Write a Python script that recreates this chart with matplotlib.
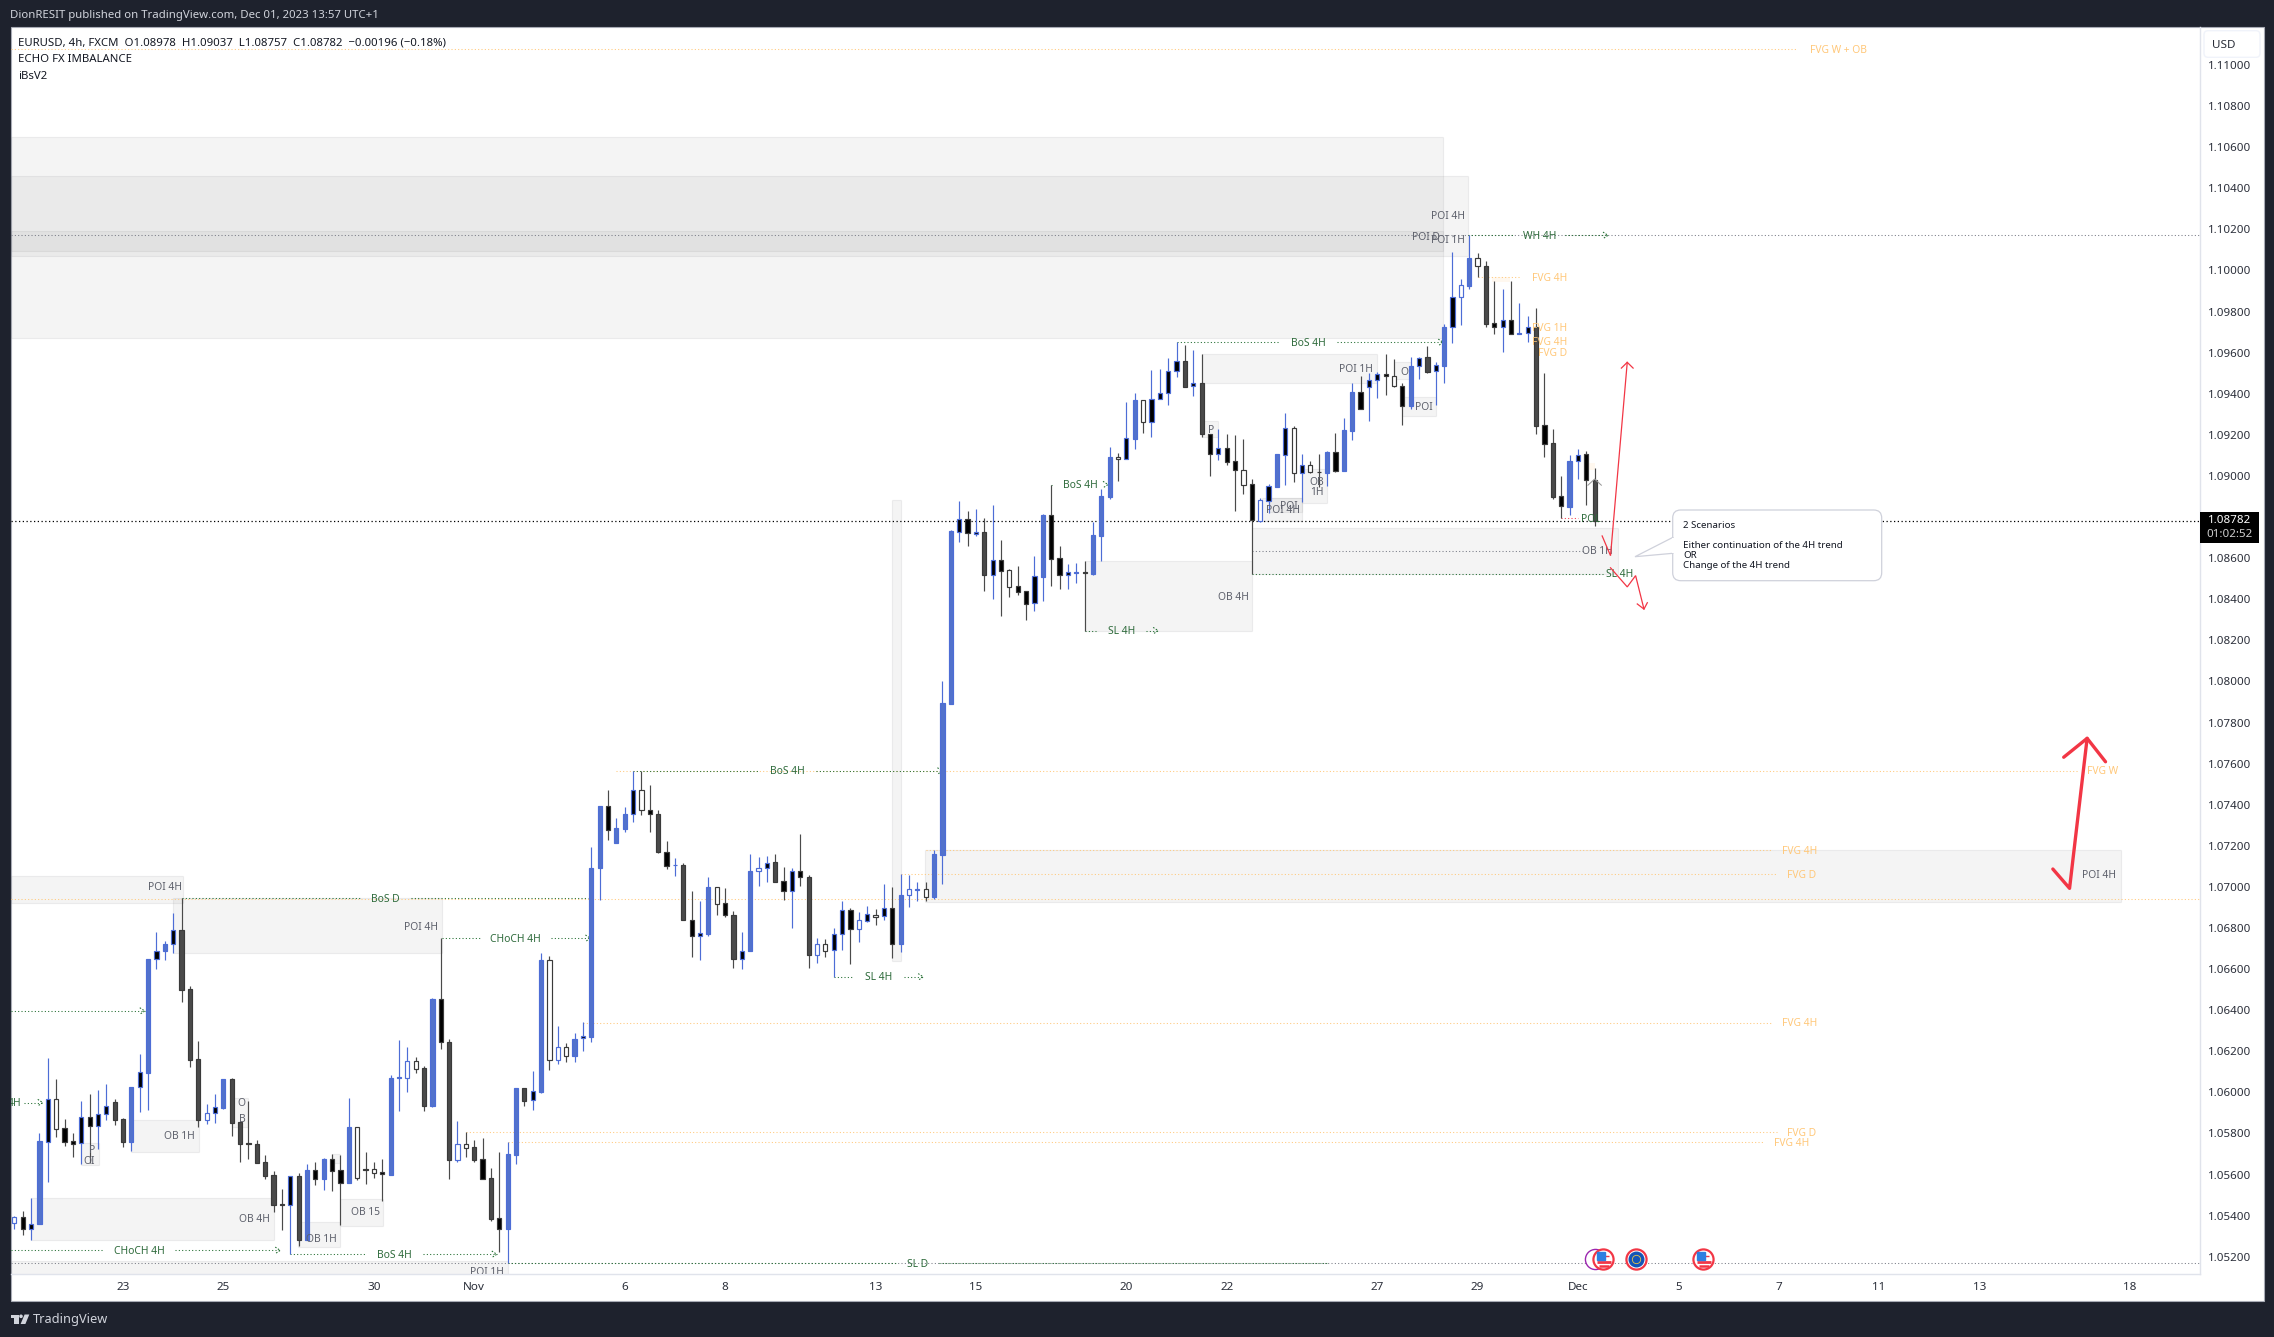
import matplotlib
matplotlib.use('Agg')
import matplotlib.pyplot as plt
from matplotlib.patches import Rectangle, FancyBboxPatch, Polygon, Circle

# ---- candles (one per 4h, weekends skipped) ----
opens = [1.05366,1.05392,1.05337,1.05358,1.05760,1.05966,1.05825,1.05762,1.05752,1.05879,
         1.05838,1.05893,1.05952,1.05871,1.05760,1.06025,1.06096,1.06647,1.06686,1.06720,
         1.06790,1.06503,1.06163,1.05867,1.05898,1.05926,1.06065,1.05854,1.05752,1.05749,
         1.05660,1.05598,1.05455,1.05454,1.05593,1.05282,1.05622,1.05580,1.05674,1.05622,
         1.05561,1.05830,1.05626,1.05626,1.05611,1.05600,1.06072,1.06072,1.06151,1.06119,
         1.05934,1.06454,1.06244,1.05673,1.05747,1.05734,1.05674,1.05583,1.05387,1.05337,
         1.05697,1.06019,1.05962,1.06003,1.06642,1.06157,1.06220,1.06179,1.06264,1.06271,
         1.07094,1.07393,1.07215,1.07283,1.07354,1.07470,1.07372,1.07354,1.07172,1.07105,
         1.07105,1.06837,1.06759,1.06770,1.06998,1.06920,1.06861,1.06651,1.06690,1.07076,
         1.07090,1.07120,1.07027,1.06979,1.07076,1.07046,1.06670,1.06720,1.06692,1.06772,
         1.06887,1.06794,1.06833,1.06864,1.06857,1.06896,1.06724,1.06959,1.06987,1.06989,
         1.06953,1.07157,1.07892,1.08729,1.08789,1.08719,1.08727,1.08520,1.08589,1.08542,
         1.08463,1.08438,1.08380,1.08510,1.08810,1.08599,1.08520,1.08529,1.08531,1.08524,
         1.08709,1.08899,1.09091,1.09081,1.09181,1.09368,1.09264,1.09373,1.09402,1.09509,
         1.09559,1.09436,1.09452,1.09206,1.09109,1.09135,1.09071,1.09027,1.08959,1.08781,
         1.08880,1.08948,1.09104,1.09232,1.09016,1.09055,1.09021,1.09016,1.09115,1.09026,
         1.09220,1.09407,1.09431,1.09469,1.09495,1.09485,1.09436,1.09340,1.09535,1.09577,
         1.09509,1.09537,1.09723,1.09869,1.09926,1.10059,1.10022,1.09743,1.09727,1.09757,
         1.09693,1.09694,1.09723,1.09247,1.09161,1.08901,1.08851,1.09071,1.09105,1.08978]
highs = [1.05399,1.05423,1.05485,1.05801,1.06166,1.06064,1.05871,1.05801,1.05958,1.05991,
         1.06012,1.06041,1.05966,1.05874,1.06026,1.06187,1.06647,1.06780,1.06737,1.06873,
         1.06944,1.06518,1.06250,1.05944,1.05992,1.06065,1.06070,1.05854,1.05958,1.05768,
         1.05695,1.05618,1.05530,1.05592,1.05606,1.05650,1.05661,1.05682,1.05700,1.05694,
         1.05971,1.05830,1.05710,1.05663,1.05674,1.06083,1.06255,1.06221,1.06172,1.06128,
         1.06461,1.06750,1.06260,1.05861,1.05806,1.05768,1.05777,1.05630,1.05710,1.05757,
         1.06019,1.06019,1.06103,1.06677,1.06666,1.06325,1.06238,1.06288,1.06342,1.07194,
         1.07394,1.07472,1.07335,1.07387,1.07563,1.07563,1.07496,1.07374,1.07224,1.07141,
         1.07116,1.06979,1.06931,1.07048,1.06998,1.06994,1.06881,1.06781,1.07161,1.07146,
         1.07150,1.07161,1.07096,1.07090,1.07257,1.07057,1.06751,1.06746,1.06800,1.06931,
         1.06898,1.06877,1.06907,1.06892,1.07014,1.07000,1.07063,1.07057,1.07026,1.07024,
         1.07178,1.08002,1.08737,1.08878,1.08829,1.08839,1.08794,1.08858,1.08688,1.08547,
         1.08562,1.08438,1.08610,1.08813,1.08956,1.08659,1.08571,1.08575,1.08586,1.08777,
         1.08935,1.09139,1.09110,1.09360,1.09404,1.09370,1.09516,1.09521,1.09574,1.09652,
         1.09637,1.09613,1.09594,1.09206,1.09229,1.09204,1.09199,1.09180,1.08985,1.08893,
         1.08959,1.09105,1.09306,1.09243,1.09107,1.09071,1.09107,1.09120,1.09209,1.09281,
         1.09452,1.09486,1.09503,1.09506,1.09594,1.09569,1.09452,1.09577,1.09577,1.09632,
         1.09555,1.09740,1.10088,1.09957,1.10173,1.10084,1.10046,1.09949,1.09912,1.09949,
         1.09842,1.09778,1.09817,1.09503,1.09229,1.09000,1.09102,1.09131,1.09120,1.09037]
lows = [1.05334,1.05306,1.05282,1.05358,1.05566,1.05785,1.05741,1.05687,1.05652,1.05655,
        1.05726,1.05866,1.05841,1.05736,1.05715,1.05906,1.05914,1.06599,1.06644,1.06680,
        1.06442,1.06125,1.05833,1.05846,1.05853,1.05921,1.05789,1.05663,1.05674,1.05656,
        1.05580,1.05420,1.05330,1.05212,1.05253,1.05282,1.05549,1.05525,1.05522,1.05355,
        1.05558,1.05574,1.05554,1.05585,1.05473,1.05600,1.05911,1.06002,1.06096,1.05911,
        1.05931,1.06211,1.05580,1.05663,1.05687,1.05663,1.05577,1.05376,1.05222,1.05168,
        1.05649,1.05936,1.05914,1.05995,1.06107,1.06140,1.06149,1.06149,1.06201,1.06247,
        1.06937,1.07229,1.07215,1.07268,1.07318,1.07352,1.07265,1.07166,1.07085,1.07055,
        1.06837,1.06659,1.06644,1.06763,1.06863,1.06855,1.06607,1.06598,1.06690,1.07002,
        1.07026,1.07024,1.06937,1.06801,1.07002,1.06607,1.06631,1.06659,1.06562,1.06692,
        1.06627,1.06733,1.06829,1.06816,1.06840,1.06655,1.06685,1.06903,1.06933,1.06933,
        1.06942,1.07014,1.07892,1.08679,1.08661,1.08708,1.08442,1.08403,1.08318,1.08412,
        1.08422,1.08299,1.08344,1.08393,1.08464,1.08451,1.08451,1.08481,1.08247,1.08520,
        1.08586,1.08886,1.08977,1.09081,1.09133,1.09211,1.09191,1.09373,1.09347,1.09483,
        1.09431,1.09391,1.09191,1.09002,1.09079,1.09055,1.08830,1.08914,1.08521,1.08778,
        1.08818,1.08948,1.08958,1.08972,1.08873,1.09016,1.08948,1.08951,1.09021,1.09024,
        1.09175,1.09326,1.09269,1.09379,1.09394,1.09435,1.09248,1.09328,1.09474,1.09503,
        1.09345,1.09454,1.09646,1.09736,1.09908,1.09967,1.09723,1.09693,1.09605,1.09689,
        1.09689,1.09654,1.09206,1.09094,1.08886,1.08794,1.08812,1.08987,1.08859,1.08757]
closes = [1.05392,1.05337,1.05358,1.05764,1.05966,1.05823,1.05760,1.05751,1.05879,1.05838,
          1.05893,1.05932,1.05866,1.05760,1.06026,1.06098,1.06647,1.06686,1.06720,1.06789,
          1.06500,1.06158,1.05867,1.05898,1.05927,1.06065,1.05853,1.05751,1.05751,1.05656,
          1.05595,1.05454,1.05454,1.05592,1.05282,1.05622,1.05580,1.05674,1.05619,1.05561,
          1.05832,1.05585,1.05624,1.05609,1.05601,1.06068,1.06073,1.06151,1.06116,1.05934,
          1.06454,1.06244,1.05671,1.05747,1.05731,1.05671,1.05580,1.05384,1.05337,1.05700,
          1.06019,1.05960,1.06005,1.06642,1.06157,1.06220,1.06179,1.06262,1.06273,1.07094,
          1.07394,1.07276,1.07285,1.07354,1.07470,1.07372,1.07354,1.07172,1.07103,1.07106,
          1.06837,1.06759,1.06774,1.06998,1.06918,1.06861,1.06651,1.06690,1.07076,1.07090,
          1.07118,1.07024,1.06979,1.07076,1.07046,1.06668,1.06720,1.06690,1.06772,1.06887,
          1.06794,1.06840,1.06866,1.06855,1.06896,1.06724,1.06959,1.06989,1.06989,1.06953,
          1.07161,1.07893,1.08732,1.08789,1.08721,1.08726,1.08518,1.08589,1.08539,1.08461,
          1.08437,1.08378,1.08511,1.08810,1.08597,1.08520,1.08531,1.08531,1.08529,1.08713,
          1.08901,1.09091,1.09081,1.09183,1.09370,1.09264,1.09373,1.09402,1.09509,1.09558,
          1.09435,1.09451,1.09206,1.09109,1.09135,1.09070,1.09027,1.08958,1.08784,1.08882,
          1.08950,1.09105,1.09232,1.09016,1.09055,1.09021,1.09019,1.09115,1.09026,1.09222,
          1.09407,1.09328,1.09469,1.09495,1.09486,1.09436,1.09342,1.09535,1.09576,1.09507,
          1.09538,1.09725,1.09869,1.09928,1.10059,1.10020,1.09741,1.09727,1.09757,1.09693,
          1.09694,1.09723,1.09245,1.09157,1.08899,1.08852,1.09071,1.09104,1.08979,1.08782]
# s = solid body, k = black body, w = hollow body
body_kinds = ('wkkskwkkkk' 'kksssksksk' 'ssswksssks' 'sskksskskk' 'swkwkskwws'
              'skswwsksks' 'sskswwwsks' 'sksskwkskk' 'skkswksksw' 'kskkkswwkk'
              'kwkwkkswkw' 'ssskkkskkw' 'kkkskkkkks' 'sswkswkkkk' 'skskkkkwkw'
              'kskwkwksks' 'skkkkwksks' 'kskwswskkk' 'kkskskskks')

# ---- axes ----
time_ticks = [13, 25, 43, 55, 73, 85, 103, 115, 133, 145, 163, 175, 187, 199, 211, 223, 235, 253]
time_labels = ['23', '25', '30', 'Nov', '6', '8', '13', '15', '20', '22', '27', '29', 'Dec',
               '5', '7', '11', '13', '18']
price_ticks = [1.052, 1.054, 1.056, 1.058, 1.060, 1.062, 1.064, 1.066, 1.068, 1.070, 1.072, 1.074,
               1.076, 1.078, 1.080, 1.082, 1.084, 1.086, 1.090, 1.092, 1.094, 1.096, 1.098, 1.100,
               1.102, 1.104, 1.106, 1.108, 1.110]
last_price = 1.08782

# ---- drawings, in bar number and price ----
# start, end, top, bottom
zones = [(-0.46, 170.9, 1.10648, 1.09670), (-0.46, 173.9, 1.10460, 1.10072), (-0.46, 170.9, 1.10192, 1.10096),
         (-0.46, 20.2, 1.07053, 1.06922), (19.0, 51.1, 1.06946, 1.06678), (14.0, 22.1, 1.05865, 1.05711),
         (8.0, 10.1, 1.05753, 1.05646), (26.0, 28.0, 1.05973, 1.05831), (2.0, 31.0, 1.05486, 1.05281),
         (33.9, 39.0, 1.05369, 1.05247), (39.0, 44.1, 1.05481, 1.05350), (38.0, 39.0, 1.05700, 1.05656),
         (-0.46, 59.0, 1.05179, 1.05110), (108.9, 251.9, 1.07180, 1.06928), (105.0, 106.0, 1.08883, 1.06639),
         (128.0, 148.0, 1.08586, 1.08247), (148.0, 191.8, 1.08747, 1.08521), (149.2, 154.0, 1.08893, 1.08782),
         (150.0, 154.0, 1.08893, 1.08825), (154.0, 157.0, 1.09034, 1.08870), (142.0, 163.0, 1.09594, 1.09451),
         (142.0, 144.0, 1.09267, 1.09188), (165.0, 167.0, 1.09555, 1.09470), (166.0, 170.0, 1.09384, 1.09293)]
# label, bar, price, right aligned
zone_labels = [('POI 4H', 20.0, 1.06995, True), ('POI 4H', 50.7, 1.06800, True), ('OB 1H', 21.6, 1.05785, True),
               ('P', 9.3, 1.05715, False), ('OI', 8.9, 1.05665, False), ('O', 27.2, 1.05945, False),
               ('B', 27.3, 1.05870, False), ('OB 4H', 30.6, 1.05380, True), ('OB 1H', 38.6, 1.05285, True),
               ('OB 15', 43.7, 1.05415, True), ('POI 1H', 58.6, 1.05125, True), ('POI 4H', 251.3, 1.07056, True),
               ('OB 4H', 147.6, 1.08410, True), ('POI 4H', 153.8, 1.08833, True), ('POI', 152.4, 1.08850, False),
               ('OB', 155.8, 1.08970, False), ('1H', 155.8, 1.08920, False), ('POI 1H', 162.5, 1.09520, True),
               ('P', 143.1, 1.09220, False), ('O', 166.2, 1.09505, False), ('POI', 168.6, 1.09335, False),
               ('OB 1H', 191.2, 1.08630, True), ('POI 4H', 173.5, 1.10265, True), ('POI D', 170.5, 1.10160, True),
               ('POI 1H', 173.5, 1.10146, True)]
# start, end, price, label, label bar, arrow
green_lines = [(20.1, 68.6, 1.06945, 'BoS D', 44.4, False), (51.1, 68.9, 1.06750, 'CHoCH 4H', 59.9, True),
               (-0.46, 15.6, 1.06396, '', 0, True), (1.2, 3.4, 1.05950, '', 0, True),
               (-0.46, 31.8, 1.05231, 'CHoCH 4H', 15.0, True), (33.0, 57.7, 1.05212, 'BoS 4H', 45.5, True),
               (59.0, 157.0, 1.05168, 'SL D', 108.0, False), (74.0, 111.0, 1.07564, 'BoS 4H', 92.4, True),
               (98.0, 108.7, 1.06562, 'SL 4H', 103.4, True), (124.0, 130.8, 1.08958, 'BoS 4H', 127.5, True),
               (128.0, 136.8, 1.08247, 'SL 4H', 132.4, True), (139.0, 170.9, 1.09650, 'BoS 4H', 154.8, True),
               (173.9, 190.6, 1.10171, 'WH 4H', 182.4, True), (148.0, 190.0, 1.08521, '', 0, False)]
green_notes = [('4H', 0.08, 1.05950), ('SL 4H', 192.0, 1.08525), ('POL', 188.6, 1.08794)]
# start, end, price, label, label bar
orange_lines = [(-0.46, 215.0, 1.11076, 'FVG W + OB', 218.2), (72.0, 248.3, 1.07564, 'FVG W', 249.8),
                (109.0, 211.2, 1.07178, 'FVG 4H', 213.5), (106.0, 211.2, 1.07061, 'FVG D', 213.8),
                (-0.46, 261.4, 1.06943, '', 0), (68.0, 211.3, 1.06340, 'FVG 4H', 213.5),
                (54.0, 211.2, 1.05805, 'FVG D', 213.8), (59.0, 210.6, 1.05756, 'FVG 4H', 212.5),
                (175.0, 181.0, 1.09967, 'FVG 4H', 183.6)]
orange_notes = [('FVG 1H', 183.6, 1.09720), ('FVG 4H', 183.6, 1.09653), ('FVG D', 184.0, 1.09600)]
orange_tints = [(176.7, 178.9, 1.09968, 1.09944), (187.9, 189.0, 1.09063, 1.09029)]
red_paths = [([189.9, 190.9, 192.9], [1.08708, 1.08612, 1.09553]),
             ([192.2, 192.9, 193.6], [1.09525, 1.09553, 1.09525]),
             ([190.9, 192.9, 193.9, 194.9], [1.08553, 1.08460, 1.08515, 1.08352]),
             ([194.1, 194.9, 195.3], [1.08377, 1.08352, 1.08383])]
big_arrow = ([243.8, 245.8, 247.9], [1.07087, 1.06993, 1.07723])
big_arrow_head = ([245.1, 247.9, 250.1], [1.07631, 1.07723, 1.07609])
event_bars = [190, 194, 202]
event_kinds = ['us', 'eu', 'us']

W, H = 2274, 1337
DARK = '#1e222d'
BLUE = '#5272cc'
WICK_BLUE = '#4d6dd6'
GREY = '#4a4a4a'
GREEN = '#2f6b3c'
LINE_GREEN = '#1f6b2e'
ORANGE = '#ffc87a'
LABEL = '#5d606b'
RED = '#f23645'
plt.rcParams['font.family'] = ['Noto Sans', 'DejaVu Sans']


def fx(x):
    return x / W


def fy(y):
    return 1 - y / H


fig = plt.figure(figsize=(W / 100, H / 100), dpi=100, facecolor=DARK)
fig.add_artist(Rectangle((fx(10.5), fy(1301)), fx(2253), (1301 - 27) / H, transform=fig.transFigure,
                         facecolor='white', edgecolor='#a8abb5', linewidth=0.8, zorder=-5))

ax = fig.add_axes([fx(10.5), fy(1274), fx(2189.5), (1274 - 27) / H], facecolor='none')
ax.set_xlim(-0.46, 261.4)
ax.set_ylim(1.05116, 1.11185)
for side in ['top', 'left']:
    ax.spines[side].set_visible(False)
for side in ['bottom', 'right']:
    ax.spines[side].set_color('#e0e3eb')
    ax.spines[side].set_linewidth(1)
ax.set_xticks(time_ticks)
ax.set_xticklabels(time_labels, fontsize=8.4, color='#2a2e39')
for lab in ax.get_xticklabels():
    if lab.get_text() in ('Nov', 'Dec'):
        lab.set_fontweight('bold')
ax.yaxis.tick_right()
ax.set_yticks(price_ticks)
ax.set_yticklabels([f'{p:.5f}' for p in price_ticks], fontsize=8.3, color='#2a2e39')
ax.tick_params(axis='both', length=0)
ax.tick_params(axis='x', pad=6)
ax.tick_params(axis='y', pad=6)

# zones
for x0, x1, top, bottom in zones:
    ax.add_patch(Rectangle((x0, bottom), x1 - x0, top - bottom, facecolor=(0.47, 0.47, 0.49, 0.08),
                           edgecolor=(0.47, 0.47, 0.49, 0.11), linewidth=0.8, zorder=1))
for x0, x1, top, bottom in orange_tints:
    ax.add_patch(Rectangle((x0, bottom), x1 - x0, top - bottom, facecolor=(1, 0.8, 0.5, 0.12),
                           linewidth=0, zorder=1))

dot = (0, (1, 2.2))
ax.plot([-0.46, 261.4], [1.10171, 1.10171], color='#787b86', lw=0.75, ls=dot, zorder=2)
ax.plot([-0.46, 261.4], [1.05168, 1.05168], color='#787b86', lw=0.75, ls=dot, zorder=2)
ax.plot([148.0, 187.9], [1.08635, 1.08635], color='#787b86', lw=0.75, ls=dot, zorder=2)

# level lines with a gap round their label
for x0, x1, price, label, at in orange_lines:
    half = len(label) * 0.42 + 0.9
    right = at - half if label and at > x1 - 1 else x1
    ax.plot([x0, min(x1, right)], [price, price], color=ORANGE, lw=0.75, ls=dot, zorder=2)
    if label:
        ax.text(at, price - 0.00004, label, color=ORANGE, fontsize=7.4, ha='center', va='center', zorder=6)
for label, at, price in orange_notes:
    ax.text(at, price - 0.00004, label, color=ORANGE, fontsize=7.4, ha='center', va='center', zorder=6)

for x0, x1, price, label, at, arrow in green_lines:
    if label:
        half = len(label) * 0.42 + 0.9
        ax.plot([x0, max(x0, at - half)], [price, price], color=LINE_GREEN, lw=0.75, ls=dot, zorder=2)
        ax.plot([min(x1, at + half), x1], [price, price], color=LINE_GREEN, lw=0.75, ls=dot, zorder=2)
        ax.text(at, price - 0.00004, label, color=GREEN, fontsize=7.4, ha='center', va='center', zorder=6)
    else:
        ax.plot([x0, x1], [price, price], color=LINE_GREEN, lw=0.75, ls=dot, zorder=2)
    if arrow:
        ax.plot([x1 - 0.6, x1, x1 - 0.6], [price + 0.00016, price, price - 0.00016], color=LINE_GREEN,
                lw=0.75, ls=(0, (1.5, 1.5)), zorder=3)
for label, at, price in green_notes:
    ax.text(at, price - 0.00004, label, color=GREEN, fontsize=7.4, ha='center', va='center', zorder=6,
            clip_on=True)
ax.plot([185, 187], [1.08794, 1.08794], color=RED, lw=0.75, ls=dot, zorder=2)
ax.plot([-0.46, 261.4], [last_price, last_price], color='black', lw=0.9, ls=(0, (1, 2)), zorder=2.5)

# candles
idx = list(range(len(opens)))
ups = [c >= o for o, c in zip(opens, closes)]
wick_colors = [WICK_BLUE if u else GREY for u in ups]
ax.vlines(idx, lows, highs, colors=wick_colors, linewidth=0.85, zorder=3)
face = []
edge = []
for kind, u in zip(body_kinds, ups):
    edge.append(WICK_BLUE if u else '#3a3a3a')
    if kind == 's':
        face.append(BLUE if u else GREY)
    elif kind == 'k':
        face.append('black')
    else:
        face.append('white')
bottoms = [min(o, c) for o, c in zip(opens, closes)]
heights = [abs(c - o) for o, c in zip(opens, closes)]
ax.bar(idx, heights, bottom=bottoms, width=0.5, color=face, edgecolor=edge, linewidth=0.85, zorder=4)
ax.plot([188.2, 189, 189.8], [1.08955, 1.08985, 1.08955], color='#9a9a9a', lw=0.75, zorder=5)

# zone labels
for label, at, price, right in zone_labels:
    ax.text(at, price, label, color=LABEL, fontsize=7.4, ha='right' if right else 'center', va='center',
            zorder=6, clip_on=True)

# drawn arrows
for xs, ys in red_paths:
    ax.plot(xs, ys, color=RED, lw=0.9, zorder=7, solid_joinstyle='miter')
ax.plot(big_arrow[0], big_arrow[1], color=RED, lw=2.4, zorder=7, solid_capstyle='round')
ax.plot(big_arrow_head[0], big_arrow_head[1], color=RED, lw=2.4, zorder=7, solid_capstyle='round')

# economic event icons along the bottom
ax.plot([189], [1.05190], marker='o', ms=14.5, mfc='white', mec='#9c27b0', mew=1, zorder=8, clip_on=False)
for bar, kind in zip(event_bars, event_kinds):
    ax.plot([bar], [1.05190], marker='o', ms=14.5, mfc='white', mec=RED, mew=1.6, zorder=8)
    if kind == 'eu':
        ax.plot([bar], [1.05190], marker='o', ms=10.5, mfc='#1255b8', mec='#1255b8', zorder=9)
        ax.plot([bar], [1.05190], marker='o', ms=6, mfc='none', mec='#e5c34a', mew=0.6, ls='none',
                zorder=10)
    else:
        ax.plot([bar + 0.12], [1.05172], marker='_', ms=10, mec=RED, mew=2.0, zorder=9)
        ax.plot([bar + 0.12], [1.05157], marker='_', ms=7, mec=RED, mew=1.8, zorder=9)
        ax.plot([bar - 0.25], [1.05205], marker='s', ms=6, mfc='#2d7fe0', mec='#2d7fe0', zorder=10)
        ax.plot([bar + 0.35], [1.05205], marker='_', ms=4, mec=RED, mew=1, zorder=9)

# callout (pixel furniture drawn over the figure)
box = FancyBboxPatch((fx(1672.7) * W, fy(580.7) * H), 209, 70.7, boxstyle='round,pad=0,rounding_size=8',
                     transform=None, facecolor='white', edgecolor='#cfd1db', linewidth=0.9, zorder=20)
fig.add_artist(box)
fig.add_artist(Polygon([(1673, fy(537.3) * H), (1635, fy(556.7) * H), (1673, fy(553.3) * H)], closed=True,
                       transform=None, facecolor='white', edgecolor='#cfd1db', linewidth=0.9, zorder=20))
fig.add_artist(Rectangle((1672.2, fy(552.8) * H), 2, 15, transform=None, facecolor='white', linewidth=0, zorder=21))
for text, y in [('2 Scenarios', 525.5), ('Either continuation of the 4H trend', 545.5), ('OR', 555.5),
                ('Change of the 4H trend', 565.5)]:
    fig.text(fx(1683), fy(y), text, fontsize=7.0, color='#131722', va='center', zorder=22)

# price scale furniture
fig.add_artist(FancyBboxPatch((2204, fy(57.3) * H), 56, 26.6, boxstyle='round,pad=0,rounding_size=4', transform=None,
                              facecolor='white', edgecolor='#f0f3fa', linewidth=1, zorder=20))
fig.text(fx(2212), fy(45), 'USD', fontsize=8.4, color='#2a2e39', va='center', zorder=21)
fig.add_artist(Rectangle((2200, fy(542.7) * H), 59, 30.7, transform=None, facecolor='black', linewidth=0, zorder=20))
fig.text(fx(2229.5), fy(520.5), '1.08782', fontsize=8.3, color='white', weight='bold', ha='center', va='center', zorder=21)
fig.text(fx(2229.5), fy(534.5), '01:02:52', fontsize=8.3, color='#d0d0d0', ha='center', va='center', zorder=21)

# header and legend
fig.text(fx(10), fy(15.5), 'DionRESIT published on TradingView.com, Dec 01, 2023 13:57 UTC+1', fontsize=8.2,
         color='#d1d4dc', va='center')
fig.text(fx(18), fy(43), 'EURUSD, 4h, FXCM  O1.08978  H1.09037  L1.08757  C1.08782  \u22120.00196 (\u22120.18%)',
         fontsize=8.2, color='#131722', va='center', zorder=22)
fig.text(fx(18), fy(59.5), 'ECHO FX IMBALANCE', fontsize=8.2, color='#131722', va='center', zorder=22)
fig.text(fx(18), fy(76.5), 'iBsV2', fontsize=8.2, color='#131722', va='center', zorder=22)

# TradingView mark
logo = '#d1d4dc'
fig.add_artist(Polygon([(10.7, fy(1314.5) * H), (18.6, fy(1314.5) * H), (18.6, fy(1324) * H), (14.2, fy(1324) * H),
                        (14.2, fy(1317.8) * H), (10.7, fy(1317.8) * H)], transform=None, facecolor=logo, linewidth=0))
fig.add_artist(Circle((21, fy(1316.3) * H), 1.8, transform=None, facecolor=logo, linewidth=0))
fig.add_artist(Polygon([(24.6, fy(1314.5) * H), (29.3, fy(1314.5) * H), (25.4, fy(1324) * H), (20.6, fy(1324) * H)],
                       transform=None, facecolor=logo, linewidth=0))
fig.text(fx(33), fy(1319), 'TradingView', fontsize=9.2, color=logo, va='center')

fig.savefig('out.png', dpi=100, facecolor=DARK)
